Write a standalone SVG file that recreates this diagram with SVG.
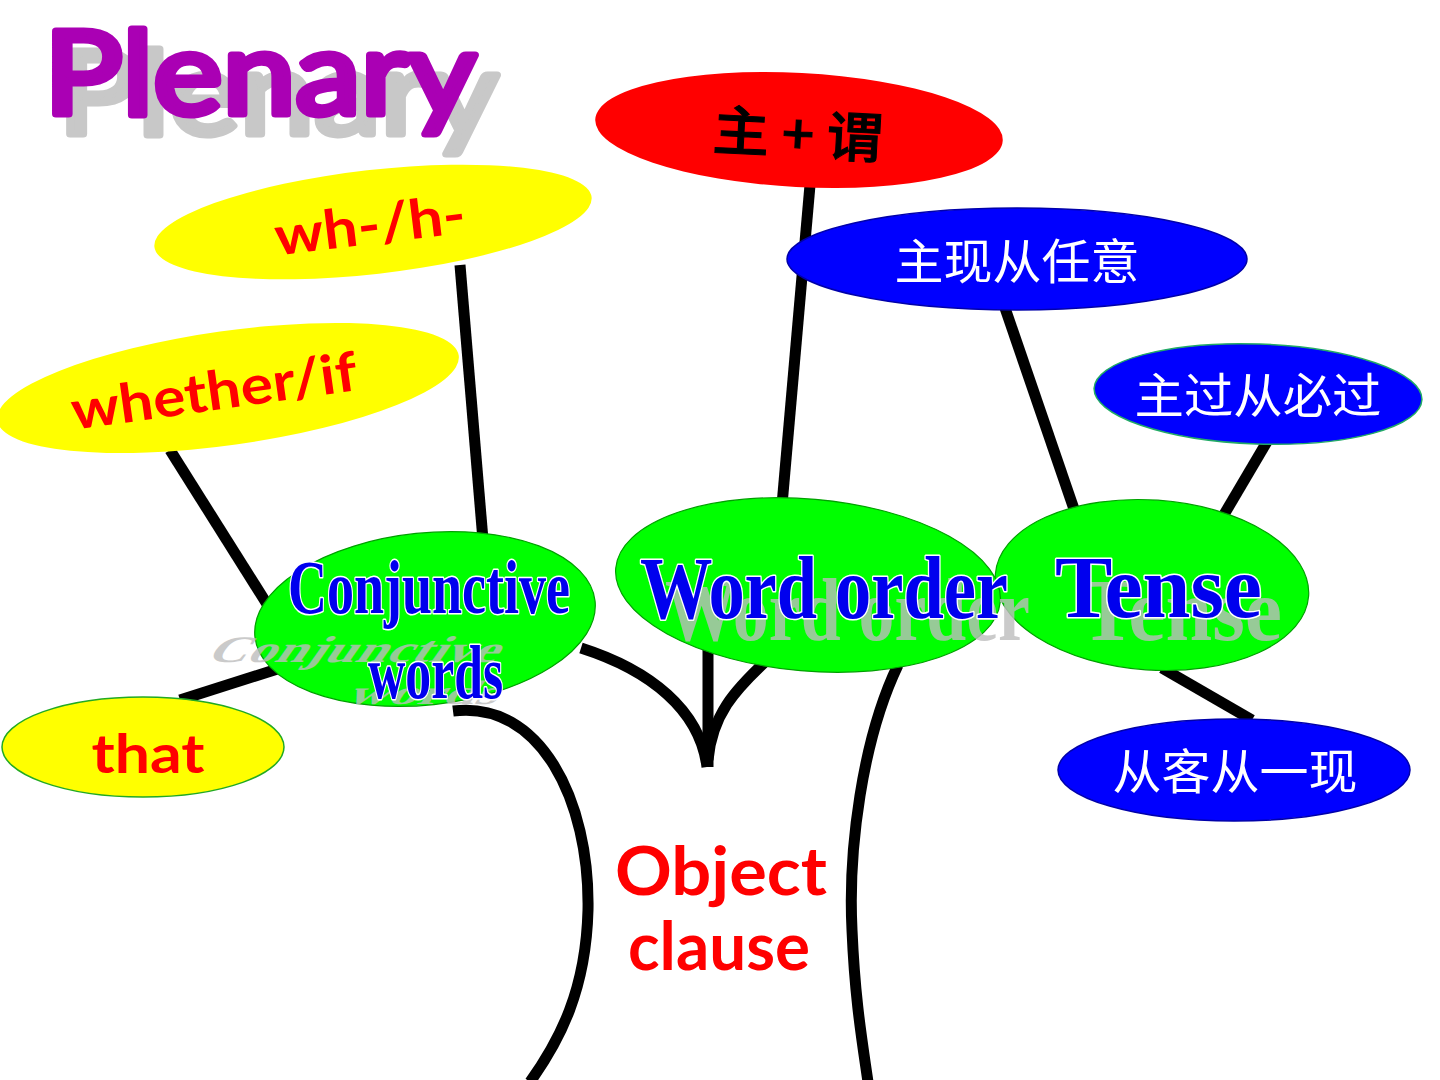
<svg xmlns="http://www.w3.org/2000/svg" width="1440" height="1080" viewBox="0 0 1440 1080">
<style>
.line{stroke:#000;stroke-width:11;fill:none;stroke-linecap:butt}
.yel{fill:#FFFF00}
.yelg{fill:#FFFF00;stroke:#22AA22;stroke-width:1.5}
.red{fill:#FF0000}
.blu{fill:#0000FF;stroke:#0000AA;stroke-width:1.5}
.blug{fill:#0000FF;stroke:#22AA66;stroke-width:1.5}
.grn{fill:#00FF00;stroke:#00A000;stroke-width:1.2}
.comic{font-family:"Lato","Open Sans",sans-serif;font-weight:bold;fill:#FF0000}
.times{font-family:"Liberation Serif",serif;font-weight:bold;fill:#0000EE;stroke:#FFFFFF;stroke-width:3;paint-order:stroke;stroke-linejoin:round}
.shadow{font-family:"Liberation Serif",serif;font-weight:bold;fill:#BDBDBD;opacity:0.8}
.cjkw{font-family:"Noto Sans CJK SC",sans-serif;fill:#FFFFFF;font-size:48px;text-anchor:middle}
.title{font-family:"Lato","Open Sans",sans-serif;font-weight:normal;font-size:116px;stroke-width:7;stroke-linejoin:round;stroke-linecap:round}
</style>

<g id="connectors">
  <line class="line" x1="170" y1="450" x2="272" y2="612"/>
  <line class="line" x1="460" y1="265" x2="483" y2="540"/>
  <line class="line" x1="180" y1="700" x2="290" y2="665"/>
  <line class="line" x1="810" y1="185" x2="782" y2="505"/>
  <line class="line" x1="1005" y1="308" x2="1075" y2="512"/>
  <line class="line" x1="1268" y1="440" x2="1222" y2="518"/>
  <line class="line" x1="1162" y1="668" x2="1252" y2="720"/>
  <path class="line" d="M 581 648 C 650 670, 700 710, 707 767"/>
  <path class="line" d="M 708 640 L 708 767"/>
  <path class="line" d="M 765 662 C 735 690, 712 715, 708 760"/>
  <path class="line" d="M 453 711 C 540 700, 590 800, 588 910 C 586 990, 560 1040, 530 1082"/>
  <path class="line" d="M 898 665 C 862 740, 848 850, 852 930 C 855 1000, 862 1040, 868 1082"/>
</g>

<g id="node-subj-pred">
  <ellipse class="red" cx="799" cy="130" rx="204" ry="57" transform="rotate(3 799 130)"/>
  <text x="798" y="154" font-family="Noto Sans CJK SC, sans-serif" font-weight="500" font-size="54" text-anchor="middle" fill="#000" stroke="#000" stroke-width="1" textLength="170" lengthAdjust="spacingAndGlyphs" transform="rotate(3 798 135)">主 + 谓</text>
</g>

<g id="node-whh">
  <ellipse class="yel" cx="373" cy="222" rx="220" ry="52" transform="rotate(-6.5 373 222)"/>
  <text class="comic" x="0" y="18" font-size="54" text-anchor="middle" textLength="192" lengthAdjust="spacingAndGlyphs" transform="translate(370 226) rotate(-7)">wh-/h-</text>
</g>

<g id="node-whether">
  <ellipse class="yel" cx="228" cy="388" rx="233" ry="57" transform="rotate(-8 228 388)"/>
  <text class="comic" x="0" y="18" font-size="54" text-anchor="middle" textLength="288" lengthAdjust="spacingAndGlyphs" transform="translate(214 392) rotate(-8)">whether/if</text>
</g>

<g id="node-that">
  <ellipse class="yelg" cx="143" cy="747" rx="141" ry="50"/>
  <text class="comic" x="148" y="773" font-size="54" text-anchor="middle" textLength="113" lengthAdjust="spacingAndGlyphs">that</text>
</g>

<g id="node-main-now">
  <ellipse class="blu" cx="1017" cy="259" rx="230" ry="51"/>
  <text class="cjkw" x="1017" y="279" textLength="245" lengthAdjust="spacingAndGlyphs">主现从任意</text>
</g>

<g id="node-main-past">
  <ellipse class="blug" cx="1258" cy="394" rx="164" ry="50" transform="rotate(2 1258 394)"/>
  <text class="cjkw" x="1258" y="413" textLength="247" lengthAdjust="spacingAndGlyphs">主过从必过</text>
</g>

<g id="node-truth">
  <ellipse class="blu" cx="1234" cy="770" rx="176" ry="51"/>
  <text class="cjkw" x="1235" y="789" textLength="245" lengthAdjust="spacingAndGlyphs">从客从一现</text>
</g>

<g id="node-conjunctive">
  <ellipse class="grn" cx="425" cy="619" rx="171" ry="86" transform="rotate(-6 425 619)"/>
  <text class="shadow" x="0" y="0" font-size="75" textLength="290" lengthAdjust="spacingAndGlyphs" transform="translate(205 662) skewX(-35) scale(1 0.5)">Conjunctive</text>
  <text class="shadow" x="0" y="0" font-size="75" textLength="150" lengthAdjust="spacingAndGlyphs" transform="translate(345 704) skewX(-35) scale(1 0.45)">words</text>
  <text class="times" x="288" y="613" font-size="76" textLength="282" lengthAdjust="spacingAndGlyphs">Conjunctive</text>
  <text class="times" x="368" y="698" font-size="76" textLength="135" lengthAdjust="spacingAndGlyphs">words</text>
</g>

<g id="node-tense">
  <ellipse class="grn" cx="1152" cy="585" rx="157" ry="85" transform="rotate(4 1152 585)"/>
  <text class="shadow" x="1080" y="640" font-size="88" textLength="202" lengthAdjust="spacingAndGlyphs">Tense</text>
  <text class="times" x="1055" y="617" font-size="88" textLength="207" lengthAdjust="spacingAndGlyphs">Tense</text>
</g>

<g id="node-word-order">
  <ellipse class="grn" cx="808" cy="585" rx="193" ry="86" transform="rotate(5 808 585)"/>
  <text class="shadow" x="665" y="640" font-size="88" textLength="365" lengthAdjust="spacingAndGlyphs">Word order</text>
  <text class="times" x="640" y="618" font-size="88" textLength="368" lengthAdjust="spacingAndGlyphs">Word order</text>
</g>

<g id="node-object-clause">
  <text class="comic" x="721" y="895" font-size="66" text-anchor="middle" textLength="212" lengthAdjust="spacingAndGlyphs">Object</text>
  <text class="comic" x="719" y="970" font-size="66" text-anchor="middle" textLength="182" lengthAdjust="spacingAndGlyphs">clause</text>
</g>

<g id="title">
  <text class="title" x="58" y="134" fill="#C8C8C8" stroke="#C8C8C8" textLength="440" lengthAdjust="spacingAndGlyphs">Plenary</text>
  <text class="title" x="44" y="114" fill="#AA00B4" stroke="#AA00B4" textLength="432" lengthAdjust="spacingAndGlyphs">Plenary</text>
</g>
</svg>
